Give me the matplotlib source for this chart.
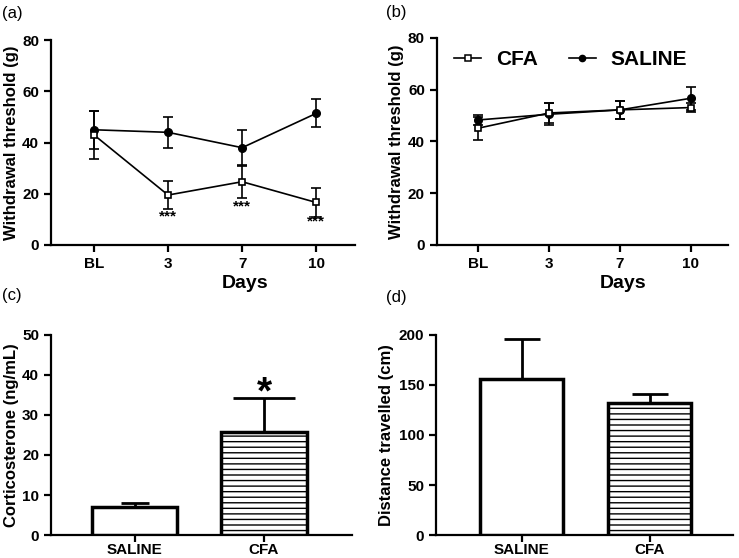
import numpy as np
import matplotlib
matplotlib.use('Agg')
import matplotlib.pyplot as plt
from matplotlib.lines import Line2D

plt.rcParams['font.family'] = 'Liberation Sans'
plt.rcParams['hatch.linewidth'] = 1.0

days = ['BL', '3', '7', '10']
# panel a
cfa_a = [43, 19.5, 24.7, 16.6]
cfa_a_err = [9.5, 5.6, 6.2, 5.5]
sal_a = [45, 44, 38, 51.4]
sal_a_err = [7.5, 6, 6.9, 5.5]
stars_y = [11, 15.2, 9.1]
# panel b
cfa_b = [45.1, 51, 52.2, 53.1]
cfa_b_err = [4.5, 4, 3.6, 1.8]
sal_b = [48.3, 50.5, 52.2, 56.7]
sal_b_err = [2, 4.3, 3.4, 4.5]
# panel c, d
groups = ['SALINE', 'CFA']
cort = [6.9, 25.8]
cort_err = [1.2, 8.5]
dist = [156, 132.3]
dist_err = [39.7, 8.4]

fig = plt.figure(figsize=(7.39, 5.58), dpi=100)

def style(ax, pad):
    for s in ['top', 'right']:
        ax.spines[s].set_visible(False)
    for s in ['left', 'bottom']:
        ax.spines[s].set_linewidth(1.6)
    ax.tick_params(width=1.6, length=5, labelsize=11)
    ax.tick_params(axis='x', pad=pad)
    for lab in ax.get_xticklabels() + ax.get_yticklabels():
        lab.set_fontweight('bold')

def line_panel(ax, cfa, cfa_e, sal, sal_e, legend=False):
    x = np.arange(len(days))
    ax.errorbar(x, sal, yerr=sal_e, color='black', lw=1.2, marker='o', ms=5.5,
                capsize=3.5, capthick=1.2, elinewidth=1.2, zorder=3)
    ax.errorbar(x, cfa, yerr=cfa_e, color='black', lw=1.2, marker='s', ms=5,
                mfc='white', mew=1.2, capsize=3.5, capthick=1.2, elinewidth=1.2,
                zorder=4)
    ax.set_xlim(-0.58, 3.52)
    ax.set_ylim(0, 80)
    ax.set_yticks([0, 20, 40, 60, 80])
    ax.set_xticks(x)
    ax.set_xticklabels(days)
    ax.set_ylabel('Withdrawal threshold (g)', fontsize=12, fontweight='bold')
    ax.set_xlabel('Days', fontsize=14, fontweight='bold')
    ax.xaxis.set_label_coords(0.64, -0.145)
    style(ax, 3.5)
    if legend:
        h = [Line2D([], [], color='black', lw=1.2, marker='s', ms=4.5, mfc='white', mew=1.1),
             Line2D([], [], color='black', lw=1.2, marker='o', ms=4.5)]
        ax.legend(h, ['CFA', 'SALINE'], loc='upper left', bbox_to_anchor=(-0.005, 1.03),
                  ncol=2, frameon=False, handlelength=1.3, handletextpad=0.7,
                  columnspacing=1.5, prop={'weight': 'bold', 'size': 15})

ax_a = fig.add_axes([0.069, 0.561, 0.411, 0.367])
line_panel(ax_a, cfa_a, cfa_a_err, sal_a, sal_a_err)
ax_a.yaxis.set_label_coords(-0.105, 0.5)
for xi, yi in zip([1, 2, 3], stars_y):
    ax_a.text(xi, yi, '***', ha='center', va='center', fontsize=11, fontweight='bold')

ax_b = fig.add_axes([0.591, 0.561, 0.394, 0.371])
line_panel(ax_b, cfa_b, cfa_b_err, sal_b, sal_b_err, legend=True)
ax_b.yaxis.set_label_coords(-0.113, 0.5)

def bar_panel(ax, vals, errs, caps, ylim, yticks, ylabel, width):
    x = np.arange(len(groups))
    ax.bar(x[0], vals[0], width=width, color='white', edgecolor='black', lw=2.5, zorder=3)
    ax.bar(x[1], vals[1], width=width, color='white', edgecolor='black', lw=2.5,
           hatch='---', zorder=3)
    for xi, v, e, c in zip(x, vals, errs, caps):
        ax.errorbar(xi, v, yerr=[[0], [e]], color='black', elinewidth=2,
                    capsize=c, capthick=2, zorder=2)
    ax.set_ylim(*ylim)
    ax.set_yticks(yticks)
    ax.set_xticks(x)
    ax.set_xticklabels(groups)
    ax.set_ylabel(ylabel, fontsize=12, fontweight='bold')
    style(ax, 0.5)

ax_c = fig.add_axes([0.069, 0.041, 0.407, 0.359])
bar_panel(ax_c, cort, cort_err, [10, 22], (0, 50), [0, 10, 20, 30, 40, 50],
          'Corticosterone (ng/mL)', 0.66)
ax_c.set_xlim(-0.65, 1.68)
ax_c.yaxis.set_label_coords(-0.106, 0.5)
ax_c.text(1, 32.8, '*', ha='center', va='baseline', fontsize=28, fontweight='bold')

ax_d = fig.add_axes([0.590, 0.041, 0.402, 0.359])
bar_panel(ax_d, dist, dist_err, [13, 13], (0, 200), [0, 50, 100, 150, 200],
          'Distance travelled (cm)', 0.65)
ax_d.set_xlim(-0.67, 1.65)
ax_d.yaxis.set_label_coords(-0.141, 0.5)

for lbl, x, y in [('(a)', 0.003, 0.975), ('(b)', 0.522, 0.977),
                  ('(c)', 0.003, 0.47), ('(d)', 0.522, 0.466)]:
    fig.text(x, y, lbl, fontsize=12, va='center')

fig.savefig('out.png', dpi=100)
